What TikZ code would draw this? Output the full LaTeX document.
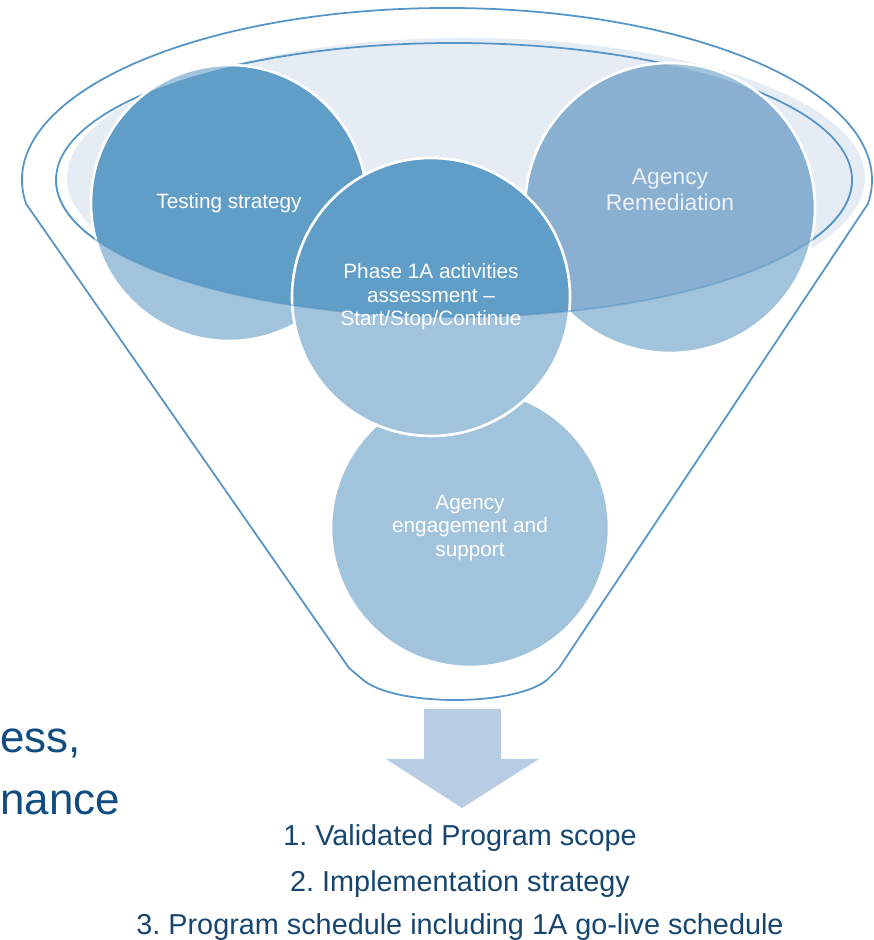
\documentclass[tikz,border=0pt]{standalone}
\usepackage{fontspec}
\setmainfont{Liberation Sans}
\usepackage{tikz}
\definecolor{rimblue}{RGB}{84,148,198}
\definecolor{glow}{RGB}{230,236,244}
\definecolor{darkfill}{RGB}{96,157,199}
\definecolor{midfill}{RGB}{137,176,208}
\definecolor{lightfill}{RGB}{161,195,220}
\definecolor{arrowfill}{RGB}{184,204,227}
\definecolor{listblue}{RGB}{22,70,112}
\definecolor{sideblue}{RGB}{16,76,128}
\definecolor{remtext}{RGB}{236,241,247}
\tikzset{rim/.style = {draw=rimblue, line width=1pt}}
\tikzset{ringline/.style = {draw=white, line width=1.5pt}}
\tikzset{bubble/.style = {text=white, align=center, inner sep=0pt,
                          font=\fontsize{11.8}{13.3}\selectfont}}
\tikzset{outcome/.style = {text=listblue, anchor=base, inner sep=0pt,
                           font=\fontsize{16.4}{19}\selectfont\frenchspacing}}
\tikzset{cutoff/.style = {text=sideblue, anchor=base west, inner sep=0pt,
                          font=\fontsize{25}{30}\selectfont}}

\begin{document}
\begin{tikzpicture}
      \useasboundingbox (0, 0) rectangle (17.46, 18.8);
      \coordinate (oc) at (8.94, 15.20);
      \coordinate (inc) at (9.08, 15.20);
      \coordinate (gc) at (9.32, 15.24);
      \coordinate (tc) at (4.58, 14.74);
      \coordinate (rc) at (13.40, 14.64);
      \coordinate (pc) at (8.62, 12.86);
      \coordinate (ec) at (9.40, 8.24);
      \draw [rim] (oc) ++(188:8.5 and 3.44)
            arc [start angle=188, end angle=-8, x radius=8.5, y radius=3.44]
            -- (11.18, 5.44) -- (10.96, 5.22)
            .. controls (10.34, 4.66) and (7.86, 4.66) .. (7.24, 5.22)
            -- (6.98, 5.44) -- cycle;
      \fill [glow] (gc) ellipse [x radius=7.98, y radius=2.80];
      \draw [rim] (inc) ellipse [x radius=7.96, y radius=2.74];
      \foreach \c/\r/\shade in {tc/2.76/darkfill, rc/2.90/midfill,
                                ec/2.78/darkfill, pc/2.78/darkfill} {
        \fill [lightfill] (\c) circle (\r);
        \begin{scope}
          \clip (inc) ellipse [x radius=7.96, y radius=2.74];
          \fill [\shade] (\c) circle (\r);
        \end{scope}
        \draw [ringline] (\c) circle (\r);
      }
      \draw [rim, opacity=0.5] (inc) ++(180:7.96 and 2.74)
            arc [start angle=180, end angle=360, x radius=7.96, y radius=2.74];
      \node [bubble] (testing) at (tc) {Testing strategy};
      \node [bubble, text=remtext, font=\fontsize{13}{14.7}\selectfont] (remed)
            at (13.40, 15.00) {Agency\\Remediation};
      \node [bubble] (phase) at (pc) {Phase 1A activities\\assessment –\\Start/Stop/Continue};
      \node [bubble] (engage) at (ec) {Agency\\engagement and\\support};
      \fill [arrowfill] (8.48, 4.62) -- (10.02, 4.62) -- (10.02, 3.62) -- (10.78, 3.62)
            -- (9.24, 2.64) -- (7.72, 3.62) -- (8.48, 3.62) -- cycle;
      \node [outcome] (scope) at (9.20, 1.88) {1. Validated Program scope};
      \node [outcome] (impl) at (9.20, 0.96) {2. Implementation strategy};
      \node [outcome] (sched) at (9.20, 0.10) {3. Program schedule including 1A go-live schedule};
      \node [cutoff] (ess) at (0, 3.74) {ess,};
      \node [cutoff] (nance) at (0, 2.50) {nance};
    \end{tikzpicture}
\end{document}
